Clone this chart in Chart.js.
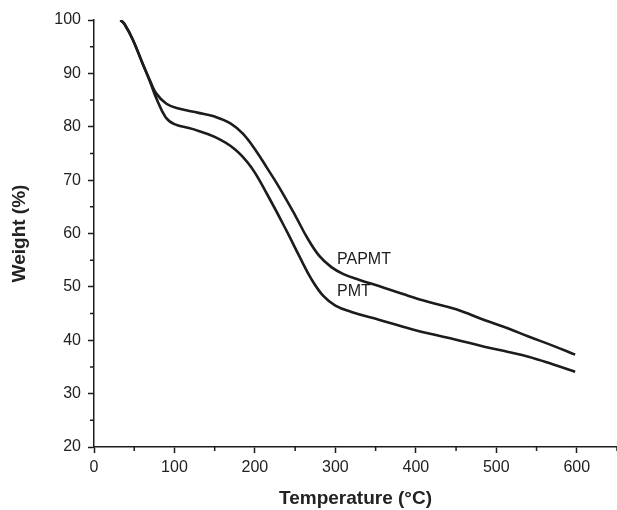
<!DOCTYPE html>
<html>
<head>
<meta charset="utf-8">
<script src="https://cdn.jsdelivr.net/npm/chart.js@4"></script>
<style>
  html, body { margin: 0; padding: 0; background: #fff; }
  #wrap { width: 617px; height: 510px; position: relative; }
</style>
</head>
<body>
<div id="wrap"><canvas id="tga"></canvas></div>
<script>
// TGA curves
const papmtTemp   = [33, 38, 48, 60, 70, 77, 90, 105, 130, 150, 170, 185, 200, 215, 230, 250, 265, 280, 295, 310, 330, 355, 385, 415, 450, 485, 515, 540, 570, 598];
const papmtWeight = [100, 99.2, 96.4, 92, 88.5, 86.3, 84.3, 83.4, 82.6, 81.9, 80.6, 78.7, 75.8, 72.3, 68.7, 63.4, 59.2, 55.8, 53.7, 52.4, 51.3, 50.1, 48.6, 47.2, 45.8, 43.8, 42.2, 40.7, 39.0, 37.3];

const pmtTemp   = [33, 38, 48, 60, 70, 77, 89, 100, 122, 150, 175, 195, 215, 240, 255, 270, 285, 300, 320, 355, 385, 415, 450, 485, 515, 540, 570, 598];
const pmtWeight = [100, 99.2, 96.4, 92, 88.3, 85.5, 81.8, 80.5, 79.6, 78.1, 75.8, 72.5, 67.4, 60.3, 55.8, 51.5, 48.3, 46.5, 45.3, 43.8, 42.5, 41.3, 40.1, 38.8, 37.8, 36.9, 35.5, 34.1];

const xTicks = [0, 100, 200, 300, 400, 500, 600];
const yTicks = [20, 30, 40, 50, 60, 70, 80, 90, 100];
const xMinor = [50, 150, 250, 350, 450, 550, 650];
const yMinor = [25, 35, 45, 55, 65, 75, 85, 95];

// curve labels: text and where they sit (data units)
const curveLabels = [
  { text: 'PAPMT', x: 302, y: 55.1 },
  { text: 'PMT',   x: 302, y: 49.1 }
];

const ink = '#1c1c1c';
const toPoints = (xs, ys) => xs.map((x, i) => ({ x: x, y: ys[i] }));

// minor ticks + curve names
const extras = {
  id: 'extras',
  afterDraw(chart) {
    const ctx = chart.ctx;
    const xs = chart.scales.x, ys = chart.scales.y;
    const area = chart.chartArea;
    ctx.save();
    ctx.strokeStyle = ink;
    ctx.lineWidth = 1.5;
    ctx.beginPath();
    xMinor.forEach(v => {
      const px = xs.getPixelForValue(v);
      ctx.moveTo(px, area.bottom);
      ctx.lineTo(px, area.bottom + 4);
    });
    yMinor.forEach(v => {
      const py = ys.getPixelForValue(v);
      ctx.moveTo(area.left, py);
      ctx.lineTo(area.left - 4, py);
    });
    ctx.stroke();

    ctx.fillStyle = ink;
    ctx.font = '16px "Liberation Sans", Arial, sans-serif';
    ctx.textBaseline = 'middle';
    ctx.textAlign = 'left';
    curveLabels.forEach(l => {
      ctx.fillText(l.text, xs.getPixelForValue(l.x), ys.getPixelForValue(l.y));
    });
    ctx.restore();
  }
};

new Chart(document.getElementById('tga'), {
  type: 'line',
  data: {
    datasets: [
      { label: 'PAPMT', data: toPoints(papmtTemp, papmtWeight) },
      { label: 'PMT',   data: toPoints(pmtTemp, pmtWeight) }
    ]
  },
  options: {
    responsive: true,
    maintainAspectRatio: false,
    animation: false,
    layout: { padding: { top: 20, right: 0, left: 4, bottom: 0 } },
    elements: {
      point: { radius: 0 },
      line: { borderColor: ink, borderWidth: 2.6, tension: 0.4, fill: false }
    },
    plugins: {
      legend: { display: false },
      tooltip: { enabled: false }
    },
    scales: {
      x: {
        type: 'linear',
        min: 0,
        max: 650,
        afterBuildTicks: s => { s.ticks = xTicks.map(v => ({ value: v })); },
        afterFit: s => { s.height = 63; },
        border: { color: ink, width: 1.5 },
        grid: { drawOnChartArea: false, tickLength: 6, tickColor: ink, tickWidth: 1.5 },
        ticks: { color: '#222', padding: 5, font: { family: '"Liberation Sans", Arial, sans-serif', size: 16 } },
        title: {
          display: true,
          text: 'Temperature (°C)',
          color: '#222',
          padding: { top: 0, bottom: 0 },
          font: { family: '"Liberation Sans", Arial, sans-serif', size: 19, weight: 'bold' }
        }
      },
      y: {
        min: 20,
        max: 100,
        afterBuildTicks: s => { s.ticks = yTicks.map(v => ({ value: v })); },
        afterFit: s => { s.width = 90; },
        border: { color: ink, width: 1.5 },
        grid: { drawOnChartArea: false, tickLength: 6, tickColor: ink, tickWidth: 1.5 },
        ticks: { color: '#222', padding: 7, font: { family: '"Liberation Sans", Arial, sans-serif', size: 16 } },
        title: {
          display: true,
          text: 'Weight (%)',
          color: '#222',
          padding: { top: 4, bottom: 0 },
          font: { family: '"Liberation Sans", Arial, sans-serif', size: 19, weight: 'bold' }
        }
      }
    }
  },
  plugins: [extras]
});
</script>
</body>
</html>
